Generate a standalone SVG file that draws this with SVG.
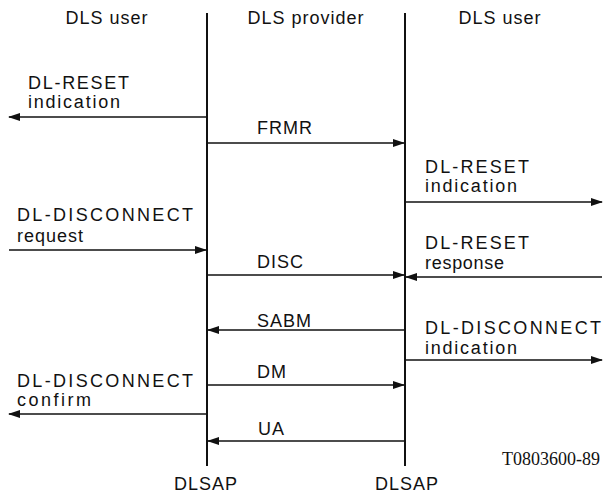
<svg xmlns="http://www.w3.org/2000/svg" width="603" height="497" viewBox="0 0 603 497">
<style>
text{font-family:"Liberation Sans",Arial,sans-serif;font-size:18px;fill:#111;letter-spacing:1px}
.fit{letter-spacing:0}
.serif{font-family:"Liberation Serif","Times New Roman",serif;letter-spacing:0}
.life{stroke:#111;stroke-width:2;fill:none}
.msg{stroke:#111;stroke-width:1.6;fill:none;marker-end:url(#ah)}
</style>
<defs>
<marker id="ah" markerWidth="12" markerHeight="8" refX="11" refY="4" orient="auto" markerUnits="userSpaceOnUse">
<path d="M0,0 L12,4 L0,8 Z" fill="#111"/>
</marker>
</defs>
<g id="headers">
<text x="107" y="24" text-anchor="middle">DLS user</text>
<text x="306" y="24" text-anchor="middle">DLS provider</text>
<text x="500" y="24" text-anchor="middle">DLS user</text>
</g>
<g id="dlsap-left">
<line class="life" x1="207" y1="13" x2="207" y2="466"/>
<text x="206" y="490" text-anchor="middle">DLSAP</text>
</g>
<g id="dlsap-right">
<line class="life" x1="405" y1="13" x2="405" y2="466"/>
<text x="407" y="490" text-anchor="middle">DLSAP</text>
</g>
<g id="connectors">
<line class="msg" x1="207" y1="117" x2="9" y2="117"/>
<line class="msg" x1="207" y1="143" x2="404" y2="143"/>
<line class="msg" x1="405" y1="202" x2="602" y2="202"/>
<line class="msg" x1="9" y1="250" x2="206" y2="250"/>
<line class="msg" x1="207" y1="275" x2="404" y2="275"/>
<line class="msg" x1="602" y1="277" x2="406" y2="277"/>
<line class="msg" x1="405" y1="330" x2="208" y2="330"/>
<line class="msg" x1="405" y1="360" x2="602" y2="360"/>
<line class="msg" x1="207" y1="385" x2="404" y2="385"/>
<line class="msg" x1="207" y1="414" x2="9" y2="414"/>
<line class="msg" x1="405" y1="441" x2="208" y2="441"/>
</g>
<g id="labels">
<text class="fit" x="28" y="89" textLength="101" lengthAdjust="spacing">DL-RESET</text>
<text class="fit" x="28" y="108" textLength="92" lengthAdjust="spacing">indication</text>
<text x="257" y="134">FRMR</text>
<text class="fit" x="425" y="173" textLength="104" lengthAdjust="spacing">DL-RESET</text>
<text class="fit" x="425" y="192" textLength="92" lengthAdjust="spacing">indication</text>
<text class="fit" x="17" y="221" textLength="176" lengthAdjust="spacing">DL-DISCONNECT</text>
<text class="fit" x="17" y="242" textLength="66" lengthAdjust="spacing">request</text>
<text x="257" y="268">DISC</text>
<text class="fit" x="425" y="249" textLength="104" lengthAdjust="spacing">DL-RESET</text>
<text class="fit" x="425" y="269" textLength="79" lengthAdjust="spacing">response</text>
<text x="257" y="327">SABM</text>
<text class="fit" x="425" y="334" textLength="176" lengthAdjust="spacing">DL-DISCONNECT</text>
<text class="fit" x="425" y="354" textLength="92" lengthAdjust="spacing">indication</text>
<text x="257" y="378">DM</text>
<text class="fit" x="17" y="387" textLength="176" lengthAdjust="spacing">DL-DISCONNECT</text>
<text class="fit" x="17" y="406" textLength="74" lengthAdjust="spacing">confirm</text>
<text x="258" y="435">UA</text>
<text class="serif" x="600" y="465" text-anchor="end">T0803600-89</text>
</g>
</svg>
